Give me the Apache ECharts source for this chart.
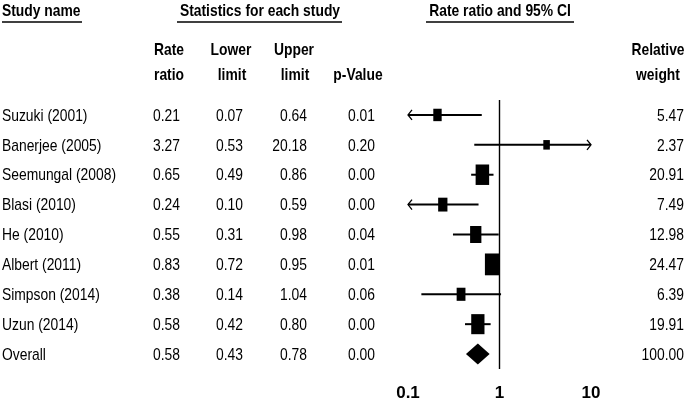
<!DOCTYPE html>
<html>
<head>
<meta charset="utf-8">
<script src="https://cdn.jsdelivr.net/npm/echarts@6/dist/echarts.min.js"></script>
<style>
html,body{margin:0;padding:0;background:#fff;}
#chart{width:687px;height:402px;}
</style>
</head>
<body>
<div id="chart"></div>
<script>
// ---- data ----
var studies = ['Suzuki (2001)','Banerjee (2005)','Seemungal (2008)','Blasi (2010)','He (2010)','Albert (2011)','Simpson (2014)','Uzun (2014)','Overall'];
var rateRatio = [0.21, 3.27, 0.65, 0.24, 0.55, 0.83, 0.38, 0.58, 0.58];
var lowerLimit = [0.07, 0.53, 0.49, 0.10, 0.31, 0.72, 0.14, 0.42, 0.43];
var upperLimit = [0.64, 20.18, 0.86, 0.59, 0.98, 0.95, 1.04, 0.80, 0.78];
var pValue = ['0.01','0.20','0.00','0.00','0.04','0.01','0.06','0.00','0.00'];
var relWeight = [5.47, 2.37, 20.91, 7.49, 12.98, 24.47, 6.39, 19.91, 100.00];
var xTicks = [0.1, 1, 10];

var FONT = "'Liberation Sans',Arial,sans-serif";
var FS = 17;
var SX = 0.815; // horizontal condensing to mimic a narrow typeface
var AXMIN = xTicks[0], AXMAX = xTicks[xTicks.length - 1];

var rows = studies.map(function (s, i) {
  return [i, rateRatio[i], lowerLimit[i], upperLimit[i], relWeight[i]];
});

function fmt(v) { return v.toFixed(2); }

function renderRow(params, api) {
  var i = api.value(0);
  var est = api.value(1), lo = api.value(2), hi = api.value(3), w = api.value(4);
  var isOverall = (i === studies.length - 1);
  var y = api.coord([1, i])[1];
  var children = [];
  var col = '#000';
  var loC = Math.max(lo, AXMIN), hiC = Math.min(hi, AXMAX);
  var p1 = api.coord([loC, i]), p2 = api.coord([hiC, i]), pc = api.coord([est, i]);
  if (!isOverall) {
    children.push({type:'line', shape:{x1:p1[0], y1:y, x2:p2[0], y2:y}, style:{stroke:col, lineWidth:2}});
    if (lo <= AXMIN) {
      children.push({type:'polyline', shape:{points:[[p1[0]+4, y-5],[p1[0], y],[p1[0]+4, y+5]]}, style:{stroke:col, lineWidth:1.3, fill:null}});
    }
    if (hi >= AXMAX) {
      children.push({type:'polyline', shape:{points:[[p2[0]-4, y-5],[p2[0], y],[p2[0]-4, y+5]]}, style:{stroke:col, lineWidth:1.3, fill:null}});
    }
    var sw = 3 + 2.3 * Math.sqrt(w);
    var sh = 4 + 3.6 * Math.sqrt(w);
    children.push({type:'rect', shape:{x:pc[0]-sw/2, y:y-sh/2, width:sw, height:sh}, style:{fill:col}});
  } else {
    var dl = api.coord([lo, i])[0], dr = api.coord([hi, i])[0];
    children.push({type:'polygon', shape:{points:[[dl, y],[pc[0], y-10.5],[dr, y],[pc[0], y+10.5]]}, style:{fill:col}});
  }
  // table text
  var ts = function (txt, x, align) {
    return {type:'text', x:x, y:y + 1, scaleX:SX, style:{text:txt, fill:col, font: FS + 'px ' + FONT, align:align, verticalAlign:'middle'}};
  };
  children.push(ts(studies[i], 2, 'left'));
  children.push(ts(fmt(est), 180, 'right'));
  children.push(ts(fmt(lo), 243, 'right'));
  children.push(ts(fmt(hi), 307, 'right'));
  children.push(ts(pValue[i], 375, 'right'));
  children.push(ts(fmt(w), 684, 'right'));
  return {type:'group', children:children};
}

function hdr(txt, x, y, align) {
  return {type:'text', x:x, y:y, scaleX:SX, style:{text:txt, fill:'#000', font:'bold ' + FS + 'px ' + FONT, align:align, verticalAlign:'middle'}};
}
function uline(x1, x2, y) {
  return {type:'line', shape:{x1:x1, y1:y, x2:x2, y2:y}, style:{stroke:'#000', lineWidth:1.5}};
}

var chart = echarts.init(document.getElementById('chart'), null, {renderer:'canvas'});
chart.setOption({
  animation:false,
  backgroundColor:'#fff',
  grid:{left:408, right:96, top:100, height:272, containLabel:false},
  xAxis:{
    type:'log', logBase:10, min:AXMIN, max:AXMAX,
    axisLine:{show:false}, axisTick:{show:false}, splitLine:{show:false},
    axisLabel:{show:true, margin:16, color:'#000', fontFamily:FONT, fontSize:FS, fontWeight:'bold',
      formatter:function(v){ return String(v); }}
  },
  yAxis:{type:'value', min:-0.5, max:8.5, inverse:true, show:false},
  series:[{
    type:'custom',
    renderItem:renderRow,
    data:rows,
    encode:{x:1, y:0},
    clip:false,
    markLine:{
      silent:true, symbol:'none', label:{show:false},
      lineStyle:{color:'#000', width:1.4, type:'solid'},
      data:[{xAxis:1}]
    }
  }],
  graphic:[
    hdr('Study name', 2, 11, 'left'), uline(2, 82, 22),
    hdr('Statistics for each study', 260, 11, 'center'), uline(177, 342, 22),
    hdr('Rate ratio and 95% CI', 500, 11, 'center'), uline(426, 574, 22),
    hdr('Rate', 169, 50, 'center'), hdr('ratio', 169, 75, 'center'),
    hdr('Lower', 231, 50, 'center'), hdr('limit', 232, 75, 'center'),
    hdr('Upper', 294, 50, 'center'), hdr('limit', 295, 75, 'center'),
    hdr('p-Value', 358, 75, 'center'),
    hdr('Relative', 658, 50, 'center'), hdr('weight', 658, 75, 'center')
  ]
});
</script>
</body>
</html>
